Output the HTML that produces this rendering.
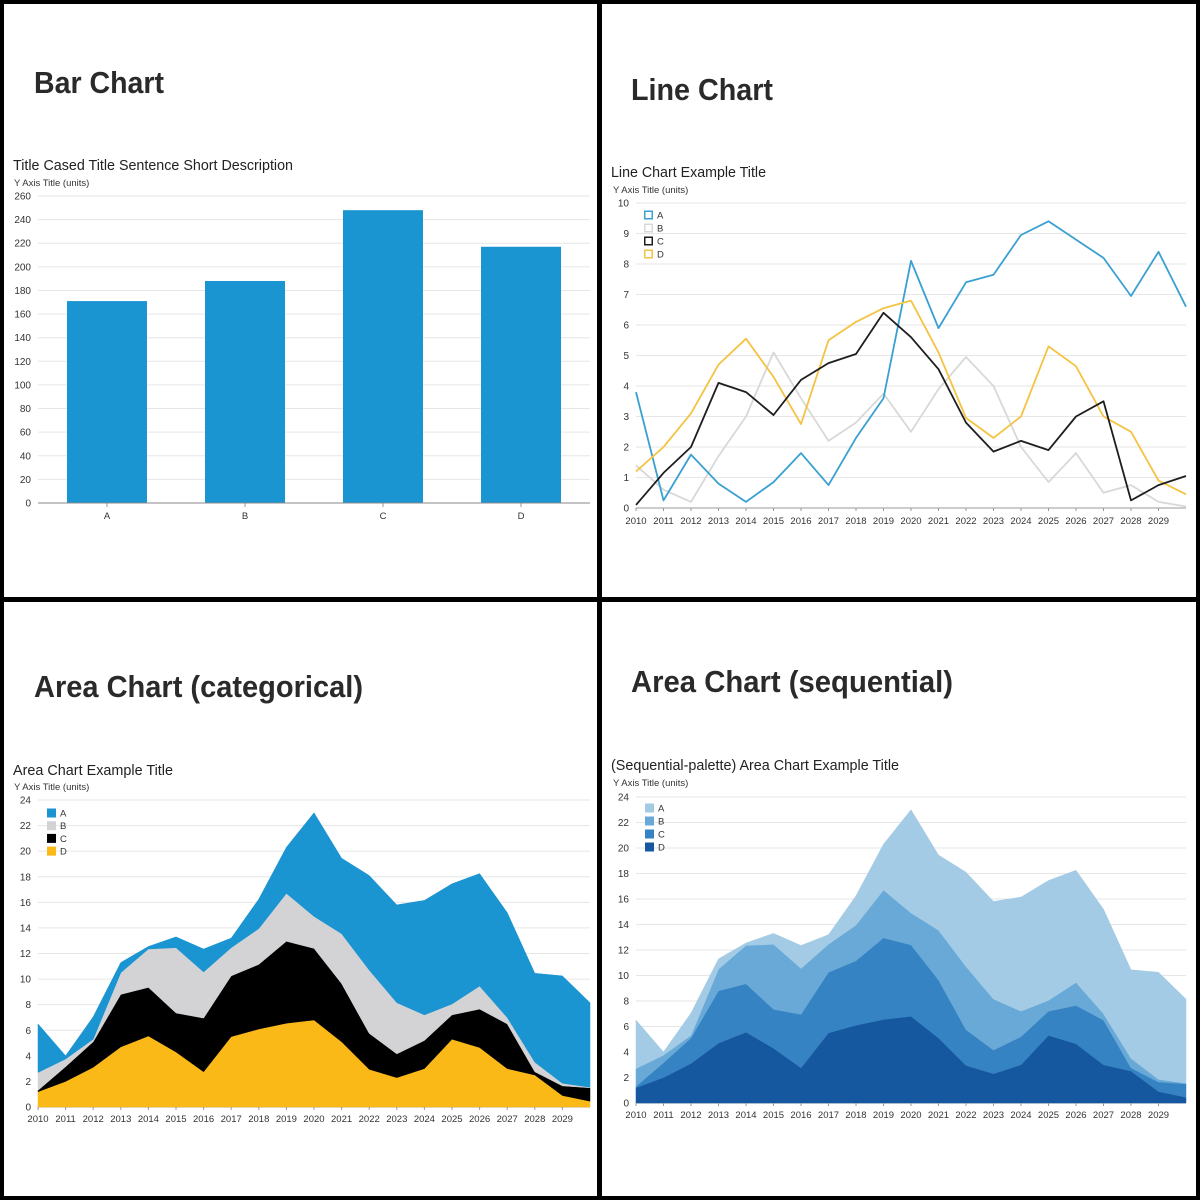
<!DOCTYPE html>
<html><head><meta charset="utf-8"><style>
html,body{margin:0;padding:0;background:#fff;}
svg{display:block;font-family:"Liberation Sans",sans-serif;}
</style></head><body>
<svg id="root" width="1200" height="1200" viewBox="0 0 1200 1200">
<rect x="0" y="0" width="1200" height="1200" fill="#fff"/>
<g id="frame">
<rect x="2" y="2" width="1196" height="1196" fill="none" stroke="#000" stroke-width="4"/>
<rect x="597" y="0" width="5" height="1200" fill="#000"/>
<rect x="0" y="597" width="1200" height="5" fill="#000"/>
</g>
<g font-weight="bold" fill="#2a2a2a" font-size="31">
<text x="34" y="93" textLength="130" lengthAdjust="spacingAndGlyphs">Bar Chart</text>
<text x="631" y="100" textLength="142" lengthAdjust="spacingAndGlyphs">Line Chart</text>
<text x="34" y="697" textLength="329" lengthAdjust="spacingAndGlyphs">Area Chart (categorical)</text>
<text x="631" y="692" textLength="322" lengthAdjust="spacingAndGlyphs">Area Chart (sequential)</text>
</g>
<g fill="#222" font-size="14.5">
<text x="13" y="170" textLength="280" lengthAdjust="spacingAndGlyphs">Title Cased Title Sentence Short Description</text>
<text x="611" y="177" textLength="155" lengthAdjust="spacingAndGlyphs">Line Chart Example Title</text>
<text x="13" y="775" textLength="160" lengthAdjust="spacingAndGlyphs">Area Chart Example Title</text>
<text x="611" y="770" textLength="288" lengthAdjust="spacingAndGlyphs">(Sequential-palette) Area Chart Example Title</text>
</g>
<g fill="#333" font-size="9.5">
<text x="14" y="186">Y Axis Title (units)</text>
<text x="613" y="193">Y Axis Title (units)</text>
<text x="14" y="790">Y Axis Title (units)</text>
<text x="613" y="786">Y Axis Title (units)</text>
</g>
<g id="charts"></g>
</svg>
<script>
// ---- Bar chart data ----
const barCategories = ["A", "B", "C", "D"];
const barValues = [171, 188, 248, 217];
const barTicks = [0, 20, 40, 60, 80, 100, 120, 140, 160, 180, 200, 220, 240, 260];
// ---- Time series data (2010-2030) ----
const years = [2010,2011,2012,2013,2014,2015,2016,2017,2018,2019,2020,2021,2022,2023,2024,2025,2026,2027,2028,2029,2030];
const yearLabels = ["2010","2011","2012","2013","2014","2015","2016","2017","2018","2019","2020","2021","2022","2023","2024","2025","2026","2027","2028","2029"];
const seriesNames = ["A", "B", "C", "D"];
const seriesA = [3.8,0.25,1.75,0.8,0.2,0.85,1.8,0.75,2.3,3.6,8.1,5.9,7.4,7.65,8.95,9.4,8.8,8.2,6.95,8.4,6.6];
const seriesB = [1.4,0.6,0.2,1.7,3.0,5.1,3.6,2.2,2.8,3.75,2.5,3.9,4.95,4.0,2.0,0.85,1.8,0.5,0.75,0.2,0.05];
const seriesC = [0.1,1.15,2.0,4.1,3.8,3.05,4.2,4.75,5.05,6.4,5.6,4.55,2.8,1.85,2.2,1.9,3.0,3.5,0.25,0.75,1.05];
const seriesD = [1.2,2.0,3.1,4.7,5.55,4.3,2.75,5.5,6.1,6.55,6.8,5.1,2.95,2.3,3.0,5.3,4.65,3.0,2.5,0.9,0.45];
const lineTicks = [0,1,2,3,4,5,6,7,8,9,10];
const areaTicks = [0,2,4,6,8,10,12,14,16,18,20,22,24];

const NS = "http://www.w3.org/2000/svg";
const root = document.getElementById("charts");
function mk(tag, attrs, parent) {
  const e = document.createElementNS(NS, tag);
  for (const k in attrs) e.setAttribute(k, attrs[k]);
  (parent || root).appendChild(e);
  return e;
}
function linear(d0, d1, r0, r1) { return v => r0 + (v - d0) * (r1 - r0) / (d1 - d0); }

function yAxis(g, ticks, y, x0, x1, labelX, prefix) {
  ticks.forEach(t => {
    const l = mk("line", {x1: x0, x2: x1, y1: y(t), y2: y(t), stroke: t === 0 ? "#999" : "#e6e6e6", "stroke-width": 1}, g);
    
    
    const tx = mk("text", {x: labelX, y: y(t) + 3.5, "text-anchor": "end", "font-size": 10, fill: "#333"}, g);
    tx.textContent = t;
    
    
  });
}
function xYearAxis(g, x, baseY, labelY, prefix) {
  yearLabels.forEach((lab, i) => {
    const yr = parseInt(lab, 10);
    const tk = mk("line", {x1: x(yr), x2: x(yr), y1: baseY, y2: baseY + 3, stroke: "#999"}, g);
    
    
    const tx = mk("text", {x: x(yr), y: labelY, "text-anchor": "middle", "font-size": 9.5, fill: "#333"}, g);
    tx.textContent = lab;
    
    
  });
}
function legend(g, x, yc, colors, filled, prefix) {
  seriesNames.forEach((n, i) => {
    const cy = yc[0] + i * yc[1];
    const r = filled
      ? mk("rect", {x: x, y: cy - 4.5, width: 9, height: 9, fill: colors[i]}, g)
      : mk("rect", {x: x + 0.75, y: cy - 3.75, width: 7.5, height: 7.5, fill: "none", stroke: colors[i], "stroke-width": 1.5}, g);
    
    
    const t = mk("text", {x: x + 13, y: cy + 3.5, "font-size": 9.5, fill: "#333"}, g);
    t.textContent = n;
    
    
  });
}

// ---- Bar chart ----
(function(){
  const g = mk("g", {});
  
  
  const y = linear(0, 260, 503, 196);
  yAxis(g, barTicks, y, 38, 590, 31, 'bar');
  const band = 138, x0 = 38, bw = 80;
  barCategories.forEach((c, i) => {
    const cx = x0 + band * (i + 0.5);
    const b = mk("rect", {x: cx - bw / 2, y: y(barValues[i]), width: bw, height: y(0) - y(barValues[i]), fill: "#1b94d2"}, g);
    
    
    const tk = mk("line", {x1: cx, x2: cx, y1: 503, y2: 507, stroke: "#999"}, g);
    
    
    const t = mk("text", {x: cx, y: 519, "text-anchor": "middle", "font-size": 9.5, fill: "#333"}, g);
    t.textContent = c;
    
    
  });
  const ax = mk("line", {x1: 38, x2: 590, y1: 503, y2: 503, stroke: "#888"}, g);
  
  
})();

// ---- Line chart ----
(function(){
  const g = mk("g", {});
  
  
  const y = linear(0, 10, 508, 203);
  const x = linear(2010, 2030, 636, 1186);
  yAxis(g, lineTicks, y, 636, 1186, 629, 'line');
  xYearAxis(g, x, 508, 524, 'line');
  const colors = ["#3aa0d2", "#d8d8d8", "#1e1e1e", "#f5c342"];
  const data = [seriesA, seriesB, seriesC, seriesD];
  [1, 0, 3, 2].forEach(si => {
    const pts = years.map((yr, i) => x(yr).toFixed(1) + "," + y(data[si][i]).toFixed(1)).join(" ");
    const p = mk("polyline", {points: pts, fill: "none", stroke: colors[si], "stroke-width": 1.8, "stroke-linejoin": "round"}, g);
    
    
  });
  legend(g, 644, [215, 13], colors, false, 'line');
})();

// ---- Stacked area charts ----
function areaChart(prefix, y0px, y1px, x0px, x1px, labelX, labelY, colors, legendY) {
  const g = mk("g", {});
  
  
  const y = linear(0, 24, y0px, y1px);
  const x = linear(2010, 2030, x0px, x1px);
  yAxis(g, areaTicks, y, x0px, x1px, labelX, prefix);
  const order = [3, 2, 1, 0];
  const data = [seriesA, seriesB, seriesC, seriesD];
  let base = years.map(() => 0);
  order.forEach(si => {
    const top = base.map((b, i) => b + data[si][i]);
    const upper = years.map((yr, i) => x(yr).toFixed(1) + "," + y(top[i]).toFixed(1));
    const lower = years.map((yr, i) => x(yr).toFixed(1) + "," + y(base[i]).toFixed(1)).reverse();
    const p = mk("polygon", {points: upper.concat(lower).join(" "), fill: colors[si], stroke: colors[si], "stroke-width": 0.5}, g);
    
    
    base = top;
  });
  xYearAxis(g, x, y0px, labelY, prefix);
  legend(g, x0px + 9, legendY, colors, true, prefix);
}
areaChart('area-cat', 1107, 800, 38, 590, 31, 1122, ["#1b94d2", "#d3d3d6", "#000000", "#fbb918"], [813, 12.7]);
areaChart('area-seq', 1103, 797, 636, 1186, 629, 1118, ["#a3cbe5", "#68a9d7", "#3683c3", "#16589f"], [808, 13]);
</script>
</body></html>
